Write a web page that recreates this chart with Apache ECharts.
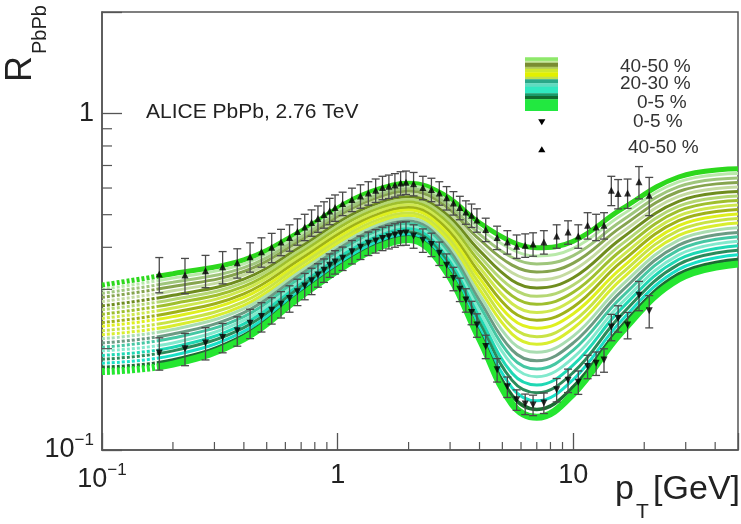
<!DOCTYPE html>
<html>
<head>
<meta charset="utf-8">
<title>R_PbPb ALICE</title>
<script src="https://cdn.jsdelivr.net/npm/echarts@6.0.0/dist/echarts.min.js"></script>
<style>
html,body{margin:0;padding:0;background:#ffffff;}
#chart{width:741px;height:524px;}
</style>
</head>
<body>
<div id="chart"></div>
<script>
// ---------------- data ----------------
// model curves sampled at these pT values [GeV]
const ptGrid = [0.1, 0.2, 0.4, 0.7, 1.1, 1.5, 2.0, 2.8, 4.0, 5.5, 7.0, 10, 16, 28, 50];

const model00 = [0.309, 0.334, 0.367, 0.447, 0.544, 0.596, 0.620, 0.575, 0.473, 0.415, 0.399, 0.417, 0.519, 0.647, 0.684];
const model01 = [0.300, 0.324, 0.357, 0.438, 0.533, 0.585, 0.608, 0.562, 0.455, 0.394, 0.377, 0.397, 0.498, 0.626, 0.663];
const model02 = [0.292, 0.315, 0.348, 0.429, 0.523, 0.574, 0.597, 0.549, 0.438, 0.373, 0.357, 0.378, 0.479, 0.606, 0.643];
const model03 = [0.284, 0.306, 0.339, 0.420, 0.512, 0.563, 0.587, 0.536, 0.422, 0.354, 0.338, 0.359, 0.460, 0.586, 0.623];
const model04 = [0.276, 0.297, 0.331, 0.411, 0.502, 0.553, 0.576, 0.524, 0.406, 0.336, 0.320, 0.342, 0.442, 0.567, 0.604];
const model05 = [0.268, 0.288, 0.322, 0.402, 0.492, 0.542, 0.565, 0.511, 0.391, 0.319, 0.303, 0.325, 0.425, 0.548, 0.586];
const model06 = [0.261, 0.280, 0.314, 0.394, 0.482, 0.532, 0.555, 0.500, 0.377, 0.303, 0.286, 0.309, 0.408, 0.530, 0.568];
const model07 = [0.253, 0.272, 0.306, 0.386, 0.473, 0.522, 0.545, 0.488, 0.363, 0.287, 0.271, 0.294, 0.392, 0.513, 0.551];
const model08 = [0.246, 0.264, 0.299, 0.378, 0.463, 0.513, 0.535, 0.477, 0.349, 0.272, 0.256, 0.280, 0.376, 0.496, 0.534];
const model09 = [0.239, 0.256, 0.291, 0.370, 0.454, 0.503, 0.525, 0.466, 0.336, 0.258, 0.243, 0.266, 0.362, 0.480, 0.518];
const model10 = [0.233, 0.249, 0.284, 0.362, 0.445, 0.494, 0.516, 0.455, 0.324, 0.245, 0.230, 0.254, 0.347, 0.464, 0.502];
const model11 = [0.226, 0.241, 0.276, 0.355, 0.436, 0.484, 0.506, 0.444, 0.312, 0.232, 0.217, 0.241, 0.334, 0.449, 0.487];
const model12 = [0.220, 0.234, 0.269, 0.347, 0.428, 0.475, 0.497, 0.434, 0.300, 0.221, 0.206, 0.230, 0.321, 0.434, 0.472];
const model13 = [0.214, 0.228, 0.263, 0.340, 0.419, 0.467, 0.488, 0.424, 0.289, 0.209, 0.195, 0.218, 0.308, 0.420, 0.457];
const model14 = [0.208, 0.221, 0.256, 0.333, 0.411, 0.458, 0.479, 0.414, 0.278, 0.198, 0.184, 0.208, 0.296, 0.406, 0.443];
const model15 = [0.202, 0.215, 0.249, 0.326, 0.403, 0.449, 0.471, 0.404, 0.268, 0.188, 0.174, 0.198, 0.284, 0.393, 0.430];
const model16 = [0.197, 0.208, 0.243, 0.319, 0.395, 0.441, 0.462, 0.395, 0.258, 0.179, 0.165, 0.188, 0.273, 0.380, 0.417];
const model17 = [0.191, 0.202, 0.237, 0.312, 0.387, 0.433, 0.454, 0.386, 0.248, 0.169, 0.156, 0.179, 0.263, 0.368, 0.404];
const model18 = [0.186, 0.197, 0.231, 0.306, 0.379, 0.425, 0.445, 0.377, 0.239, 0.161, 0.148, 0.170, 0.252, 0.356, 0.392];
const model19 = [0.181, 0.191, 0.225, 0.299, 0.372, 0.417, 0.437, 0.368, 0.230, 0.153, 0.140, 0.162, 0.242, 0.344, 0.380];
const model20 = [0.176, 0.185, 0.219, 0.293, 0.364, 0.409, 0.429, 0.360, 0.222, 0.145, 0.132, 0.154, 0.233, 0.333, 0.368];
const model21 = [0.171, 0.180, 0.214, 0.287, 0.357, 0.401, 0.422, 0.351, 0.214, 0.137, 0.125, 0.147, 0.224, 0.322, 0.357];

// ALICE data points
const dataPt = [0.175, 0.225, 0.275, 0.325, 0.375, 0.425, 0.475, 0.525, 0.575, 0.625,
                0.675, 0.725, 0.775, 0.825, 0.875, 0.925, 0.975, 1.05, 1.15, 1.25,
                1.35, 1.45, 1.55, 1.65, 1.75, 1.85, 1.95, 2.1, 2.3, 2.5,
                2.7, 2.9, 3.1, 3.3, 3.5, 3.7, 3.9, 4.25, 4.75, 5.25,
                5.75, 6.25, 6.75, 7.5, 8.5, 9.5, 10.5, 11.5, 12.5, 13.5,
                14.5, 15.5, 17, 19, 21];
const raa4050 = [0.333, 0.331, 0.341, 0.350, 0.360, 0.375, 0.388, 0.400, 0.415, 0.428,
                 0.446, 0.460, 0.474, 0.487, 0.501, 0.513, 0.525, 0.540, 0.555, 0.568,
                 0.580, 0.591, 0.602, 0.607, 0.613, 0.621, 0.624, 0.618, 0.602, 0.594,
                 0.580, 0.561, 0.542, 0.525, 0.509, 0.498, 0.482, 0.452, 0.428, 0.415,
                 0.403, 0.406, 0.409, 0.415, 0.432, 0.444, 0.432, 0.465, 0.460, 0.465,
                 0.591, 0.578, 0.580, 0.626, 0.571];
const raa005 = [0.194, 0.200, 0.208, 0.216, 0.226, 0.238, 0.249, 0.260, 0.271, 0.282,
                0.295, 0.307, 0.318, 0.331, 0.342, 0.354, 0.362, 0.371, 0.388, 0.400,
                0.411, 0.418, 0.425, 0.430, 0.435, 0.440, 0.441, 0.432, 0.420, 0.408,
                0.384, 0.354, 0.323, 0.300, 0.279, 0.256, 0.235, 0.203, 0.173, 0.154,
                0.141, 0.137, 0.136, 0.138, 0.151, 0.161, 0.159, 0.177, 0.181, 0.185,
                0.232, 0.246, 0.235, 0.288, 0.259];
// relative uncertainties in percent
const err4050 = [12, 12, 11, 11, 10, 10, 10, 10, 9, 9,
                 9, 9, 9, 9, 9, 9, 9, 8, 8, 8,
                 8, 8, 8, 8, 8, 8, 8, 8, 8, 8,
                 8, 8, 8, 8, 8, 8, 8, 8, 8, 8,
                 8, 8, 8, 8, 8, 8, 8, 9, 9, 9,
                 10, 10, 10, 11, 13];
const err005 = [11, 11, 11, 10, 10, 10, 10, 9, 9, 9,
                9, 9, 9, 8, 8, 8, 8, 8, 8, 8,
                8, 8, 8, 8, 8, 8, 8, 8, 8, 8,
                8, 8, 8, 8, 8, 8, 8, 8, 8, 7,
                7, 7, 7, 7, 8, 8, 8, 8, 8, 8,
                9, 9, 9, 10, 11];

// axes ticks and labels
const xMajorTicks = [0.1, 1, 10];
const xMajorLabels = ['{m|10}{e|\u22121}', '1', '10'];
const yMajorTicks = [0.1, 1];
const yMajorLabels = ['{m|10}{e|\u22121}', '1'];
const xMinorTicks = [0.2, 0.3, 0.4, 0.5, 0.6, 0.7, 0.8, 0.9, 2, 3, 4, 5, 6, 7, 8, 9, 20, 30, 40];
const yMinorTicks = [0.2, 0.3, 0.4, 0.5, 0.6, 0.7, 0.8, 0.9];
const legendLabels = ['40-50 %', '20-30 %', '0-5 %', '0-5 %', '40-50 %'];

// ---------------- styles ----------------
const models = [model00, model01, model02, model03, model04, model05, model06, model07,
                model08, model09, model10, model11, model12, model13, model14, model15,
                model16, model17, model18, model19, model20, model21];
const modelColors = ['#2cd81c', '#b9e9a9', '#9fc67c', '#86a44e', '#c5dba0', '#6f8d1f',
                     '#b5d773', '#9fbf2e', '#cfe84f', '#9fb219', '#dff01f', '#c9e345',
                     '#d9ee2f', '#a9ddb1', '#6b9b83', '#45c7a3', '#82e9cd', '#1fd8b4',
                     '#2b8b5b', '#1ae0c6', '#1c6b33', '#24e630'];
const modelWidths = [5, 3, 3, 3, 3, 3, 3, 3, 3, 3, 3, 3, 3, 3, 3, 3, 3, 3, 3, 3, 3.5, 7];

// dotted start of the model curves (first ~55 px), solid afterwards
const dottedStart = [];
for (let k = 0; k < 11; k++) { dottedStart.push(3, 2); }
dottedStart.push(4000, 1);

const FONT = '"Liberation Sans", Arial, Helvetica, sans-serif';
const INK = '#222222';
const AXIS = '#555555';

function labelFor(v, ticks, labels) {
  const lv = Math.log10(v);
  for (let i = 0; i < ticks.length; i++) {
    if (Math.abs(lv - Math.log10(ticks[i])) < 1e-6) return labels[i];
  }
  return '';
}

const richLabel = {
  m: { fontSize: 27, fontFamily: FONT, color: INK, lineHeight: 36 },
  e: { fontSize: 17, fontFamily: FONT, color: INK, verticalAlign: 'top', lineHeight: 20 }
};

const chart = echarts.init(document.getElementById('chart'), null, { renderer: 'canvas' });

const series = [];
models.forEach((d, i) => {
  series.push({
    type: 'line',
    data: ptGrid.map((x, j) => [x, d[j]]),
    smooth: 0.4,
    showSymbol: false,
    silent: true,
    z: 2,
    lineStyle: { color: modelColors[i], width: modelWidths[i], type: dottedStart, cap: 'butt' }
  });
});

function errorSeries(vals, errs) {
  return {
    type: 'custom',
    silent: true,
    z: 4,
    data: dataPt.map((x, i) => [x, vals[i] * (1 - errs[i] / 100), vals[i] * (1 + errs[i] / 100)]),
    encode: { x: 0, y: [1, 2] },
    renderItem: function (params, api) {
      const x = api.value(0);
      const lo = api.coord([x, api.value(1)]);
      const hi = api.coord([x, api.value(2)]);
      const w = 4;
      const st = { stroke: '#4a4a4a', lineWidth: 1.3 };
      return {
        type: 'group',
        children: [
          { type: 'line', shape: { x1: lo[0], y1: lo[1], x2: hi[0], y2: hi[1] }, style: st },
          { type: 'line', shape: { x1: lo[0] - w, y1: lo[1], x2: lo[0] + w, y2: lo[1] }, style: st },
          { type: 'line', shape: { x1: hi[0] - w, y1: hi[1], x2: hi[0] + w, y2: hi[1] }, style: st }
        ]
      };
    }
  };
}
series.push(errorSeries(raa4050, err4050));
series.push(errorSeries(raa005, err005));

series.push({
  type: 'scatter', silent: true, z: 5,
  data: dataPt.map((x, i) => [x, raa4050[i]]),
  symbol: 'triangle', symbolSize: 7,
  itemStyle: { color: '#000000' }
});
series.push({
  type: 'scatter', silent: true, z: 5,
  data: dataPt.map((x, i) => [x, raa005[i]]),
  symbol: 'triangle', symbolSize: 7, symbolRotate: 180,
  itemStyle: { color: '#000000' }
});

// minor ticks (log spaced)
series.push({
  type: 'custom', silent: true, z: 6, clip: false,
  data: xMinorTicks.map(v => [v, 0.1]),
  encode: { x: 0, y: 1 },
  renderItem: function (params, api) {
    const c = api.coord([api.value(0), api.value(1)]);
    return { type: 'line', shape: { x1: c[0], y1: c[1], x2: c[0], y2: c[1] - 8 },
             style: { stroke: AXIS, lineWidth: 1.2 } };
  }
});
series.push({
  type: 'custom', silent: true, z: 6, clip: false,
  data: yMinorTicks.map(v => [0.1, v]),
  encode: { x: 0, y: 1 },
  renderItem: function (params, api) {
    const c = api.coord([api.value(0), api.value(1)]);
    return { type: 'line', shape: { x1: c[0], y1: c[1], x2: c[0] + 10, y2: c[1] },
             style: { stroke: AXIS, lineWidth: 1.2 } };
  }
});

// legend block (graphic)
const stripeDefs = [
  [57.3, 60.7, '#8ee86a'], [60.7, 62.7, '#c8e8a0'], [62.7, 66.7, '#7a8c32'],
  [66.7, 68.7, '#b0c860'], [68.7, 72.3, '#cde830'], [72.3, 76.7, '#e2f000'],
  [76.7, 79.3, '#c0e050'], [79.3, 83.3, '#2aa888'], [83.3, 86.7, '#60dcc0'],
  [86.7, 93.3, '#30e8c0'], [93.3, 96.0, '#1a9a6a'], [96.0, 99.3, '#106a30'],
  [99.3, 110.7, '#22e840']
];
const graphics = [];
stripeDefs.forEach(s => {
  graphics.push({ type: 'rect', z: 100, shape: { x: 525, y: s[0], width: 33, height: s[1] - s[0] + 0.3 },
                  style: { fill: s[2] } });
});
const legendPos = [[620, 67], [620, 84], [637, 103], [633, 122], [628, 148]];
legendLabels.forEach((t, i) => {
  graphics.push({ type: 'text', z: 100, x: legendPos[i][0], y: legendPos[i][1],
    style: { text: t, fontSize: 19, fontFamily: FONT, fill: '#333', align: 'left', verticalAlign: 'middle' } });
});
graphics.push({ type: 'polygon', z: 100, shape: { points: [[538.2, 119.2], [545.4, 119.2], [541.8, 125.2]] }, style: { fill: '#000' } });
graphics.push({ type: 'polygon', z: 100, shape: { points: [[538.2, 152.2], [545.4, 152.2], [541.8, 146.2]] }, style: { fill: '#000' } });

graphics.push({ type: 'text', z: 100, x: 146, y: 112,
  style: { text: 'ALICE PbPb, 2.76 TeV', fontSize: 21, fontFamily: FONT, fill: INK, align: 'left', verticalAlign: 'middle' } });
// axis titles
graphics.push({ type: 'text', z: 100, x: 21, y: 82, rotation: Math.PI / 2,
  style: { text: 'R', fontSize: 36, fontFamily: FONT, fill: INK, align: 'left', verticalAlign: 'middle' } });
graphics.push({ type: 'text', z: 100, x: 40, y: 54, rotation: Math.PI / 2,
  style: { text: 'PbPb', fontSize: 20, fontFamily: FONT, fill: INK, align: 'left', verticalAlign: 'middle' } });
graphics.push({ type: 'text', z: 100, x: 615, y: 490,
  style: { text: 'p', fontSize: 34, fontFamily: FONT, fill: INK, align: 'left', verticalAlign: 'middle' } });
graphics.push({ type: 'text', z: 100, x: 636, y: 512,
  style: { text: 'T', fontSize: 21, fontFamily: FONT, fill: INK, align: 'left', verticalAlign: 'middle' } });
graphics.push({ type: 'text', z: 100, x: 740, y: 490,
  style: { text: '[GeV]', fontSize: 34, fontFamily: FONT, fill: INK, align: 'right', verticalAlign: 'middle' } });

chart.setOption({
  animation: false,
  backgroundColor: '#ffffff',
  grid: { left: 102, right: 3, top: 12, bottom: 74, show: true, borderColor: AXIS, borderWidth: 1.5,
          backgroundColor: 'transparent', containLabel: false },
  xAxis: {
    type: 'log', logBase: 10, min: 0.1, max: 50,
    axisLine: { show: true, lineStyle: { color: AXIS, width: 1.5 } },
    axisTick: { show: true, inside: true, length: 17, lineStyle: { color: AXIS, width: 1.3 } },
    minorTick: { show: false },
    splitLine: { show: false },
    axisLabel: {
      margin: 12, fontSize: 27, fontFamily: FONT, color: INK,
      formatter: v => labelFor(v, xMajorTicks, xMajorLabels),
      rich: richLabel
    }
  },
  yAxis: {
    type: 'log', logBase: 10, min: 0.1, max: 2,
    axisLine: { show: true, lineStyle: { color: AXIS, width: 1.5 } },
    axisTick: { show: true, inside: true, length: 20, lineStyle: { color: AXIS, width: 1.3 } },
    minorTick: { show: false },
    splitLine: { show: false },
    axisLabel: {
      margin: 8, fontSize: 27, fontFamily: FONT, color: INK,
      formatter: v => labelFor(v, yMajorTicks, yMajorLabels),
      rich: richLabel
    }
  },
  series: series,
  graphic: graphics
});
</script>
</body>
</html>
